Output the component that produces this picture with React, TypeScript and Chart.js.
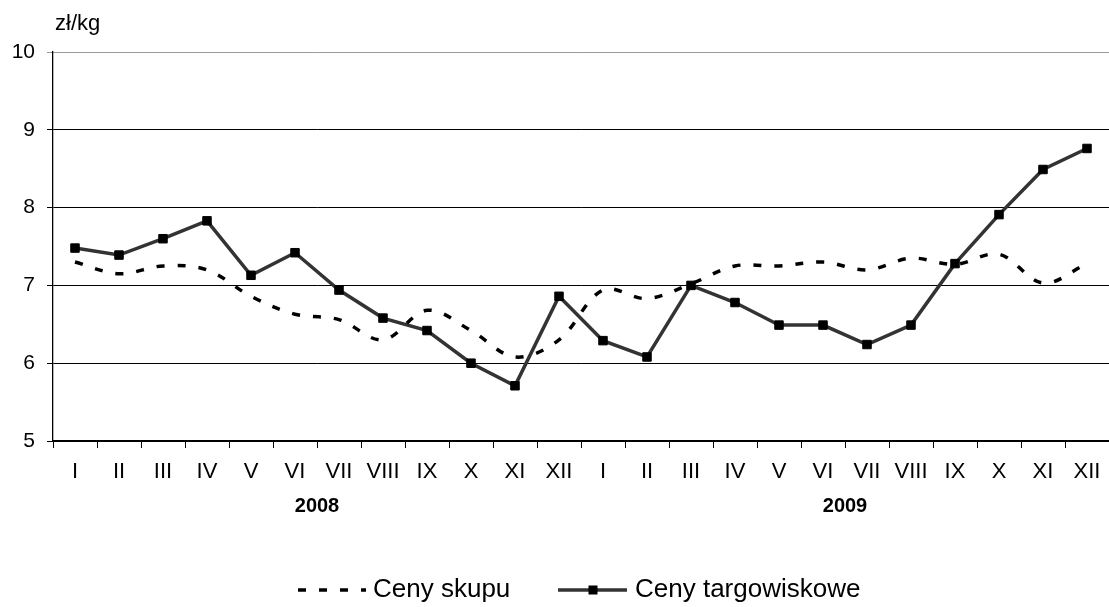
import { useEffect, useRef } from "react";
import { Chart, registerables } from "chart.js";

Chart.register(...registerables);

const months = ["I", "II", "III", "IV", "V", "VI", "VII", "VIII", "IX", "X", "XI", "XII"];
const categories = [...months, ...months];
const years = ["2008", "2009"];
const unitLabel = "zł/kg";
const seriesNames = ["Ceny skupu", "Ceny targowiskowe"];

const cenySkupu = [
  7.3, 7.15, 7.25, 7.2, 6.86, 6.63, 6.56, 6.3, 6.68, 6.42, 6.08, 6.3,
  6.94, 6.83, 7.02, 7.25, 7.25, 7.3, 7.2, 7.35, 7.27, 7.4, 7.03, 7.28,
];
const cenyTargowiskowe = [
  7.48, 7.39, 7.6, 7.83, 7.13, 7.42, 6.94, 6.58, 6.42, 6.0, 5.71, 6.86,
  6.29, 6.08, 7.0, 6.78, 6.49, 6.49, 6.24, 6.49, 7.28, 7.91, 8.49, 8.76,
];
const yMin = 5;
const yMax = 10;
const yStep = 1;

const FONT = '"Liberation Sans", Arial, sans-serif';

const extrasPlugin = {
  id: "extras",
  afterDraw(chart: any) {
    const ctx = chart.ctx;
    const xs = chart.scales.x;
    ctx.save();
    ctx.fillStyle = "#000";
    // unit label
    ctx.font = `22px ${FONT}`;
    ctx.textAlign = "left";
    ctx.textBaseline = "alphabetic";
    ctx.fillText(unitLabel, 55, 30);
    // years
    ctx.font = `bold 20px ${FONT}`;
    ctx.textAlign = "center";
    ctx.textBaseline = "middle";
    years.forEach((y, i) => {
      const a = xs.getPixelForValue(i * 12 + 5);
      const b = xs.getPixelForValue(i * 12 + 6);
      ctx.fillText(y, (a + b) / 2, 506);
    });
    // legend
    const ly = 590;
    ctx.font = `26px ${FONT}`;
    ctx.textAlign = "left";
    ctx.textBaseline = "middle";
    // dashed sample
    ctx.strokeStyle = "#000";
    ctx.lineWidth = 3.5;
    ctx.setLineDash([8, 13]);
    ctx.beginPath();
    ctx.moveTo(298, ly);
    ctx.lineTo(366, ly);
    ctx.stroke();
    ctx.setLineDash([]);
    ctx.fillText(seriesNames[0], 373, ly);
    // solid sample
    ctx.strokeStyle = "#333";
    ctx.lineWidth = 3.5;
    ctx.beginPath();
    ctx.moveTo(558, ly);
    ctx.lineTo(627, ly);
    ctx.stroke();
    ctx.fillStyle = "#000";
    ctx.fillRect(593 - 4.5, ly - 4.5, 9, 9);
    ctx.fillText(seriesNames[1], 635, ly);
    ctx.restore();
  },
};

export default function App() {
  const ref = useRef<HTMLCanvasElement>(null);
  useEffect(() => {
    document.body.style.margin = "0";
    const canvas = ref.current!;
    const chart = new Chart(canvas, {
      type: "line",
      data: {
        labels: categories,
        datasets: [
          {
            label: seriesNames[0],
            data: cenySkupu,
            borderColor: "#000",
            borderWidth: 3.5,
            borderDash: [8, 13],
            pointRadius: 0,
            tension: 0.35,
            fill: false,
          },
          {
            label: seriesNames[1],
            data: cenyTargowiskowe,
            borderColor: "#333",
            borderWidth: 3.5,
            pointStyle: "rect",
            pointRadius: 6,
            pointBackgroundColor: "#000",
            pointBorderColor: "#000",
            pointBorderWidth: 1,
            tension: 0,
            fill: false,
          },
        ],
      },
      options: {
        responsive: false,
        animation: false,
        layout: { autoPadding: false, padding: { top: 52, right: 0, bottom: 0, left: 0 } },
        plugins: {
          legend: { display: false },
          tooltip: { enabled: false },
          title: { display: false },
        },
        scales: {
          x: {
            type: "category",
            offset: true,
            grid: {
              offset: true,
              drawOnChartArea: false,
              drawTicks: true,
              tickLength: 7,
              color: "#000",
              lineWidth: 1,
            },
            border: { color: "#000", width: 1.3 },
            ticks: {
              color: "#000",
              font: { family: FONT, size: 22 },
              padding: 11,
              autoSkip: false,
              maxRotation: 0,
            },
            afterFit: (s: any) => {
              s.height = 166;
              s.paddingLeft = 0;
              s.paddingRight = 0;
            },
          },
          y: {
            min: yMin,
            max: yMax,
            ticks: {
              stepSize: yStep,
              color: "#000",
              font: { family: FONT, size: 21 },
              padding: 12,
            },
            grid: {
              color: (c: any) => (c.tick && c.tick.value === yMax ? "#9a9a9a" : "#000"),
              lineWidth: 1,
              tickLength: 6,
            },
            border: { color: "#000", width: 1.3 },
            afterFit: (s: any) => {
              s.width = 53;
              s.paddingTop = 0;
              s.paddingBottom = 0;
            },
          },
        },
      },
      plugins: [extrasPlugin],
    });
    return () => chart.destroy();
  }, []);
  return <canvas ref={ref} width={1109} height={607} style={{ display: "block" }} />;
}
